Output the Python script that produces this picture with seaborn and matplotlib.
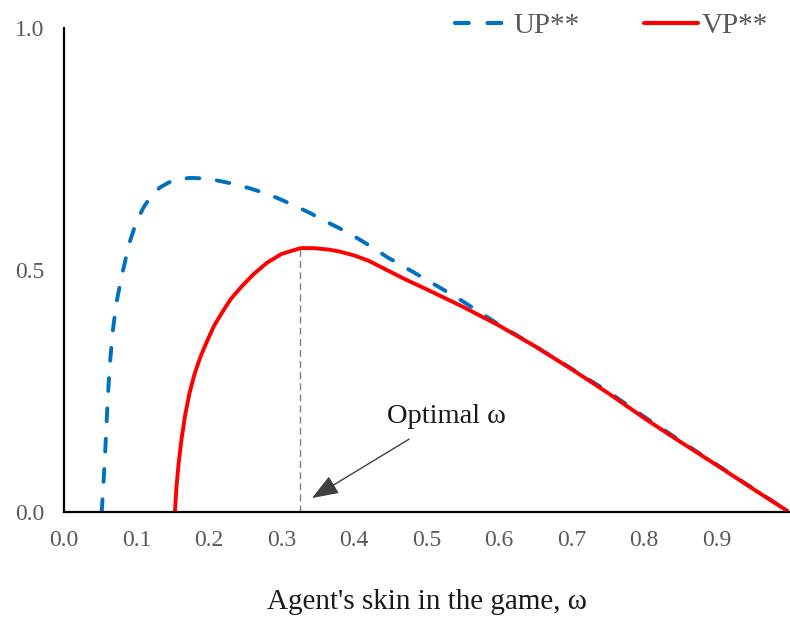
import matplotlib
matplotlib.use("Agg")
import matplotlib.pyplot as plt
from matplotlib.lines import Line2D
import seaborn as sns
import pandas as pd

# ---- data ----
up_omega = [0.052, 0.054, 0.056, 0.058, 0.060, 0.063, 0.067, 0.072, 0.080, 0.090,
            0.100, 0.110, 0.120, 0.132, 0.145, 0.160, 0.175, 0.190, 0.210, 0.233,
            0.255, 0.274, 0.295, 0.316, 0.340, 0.357, 0.380, 0.404, 0.425, 0.445,
            0.480, 0.528, 0.550, 0.600, 0.650, 0.700, 0.750, 0.800, 0.850, 0.900,
            0.950, 1.000]
up_value = [0.000, 0.050, 0.100, 0.160, 0.225, 0.300, 0.370, 0.430, 0.490, 0.555,
            0.600, 0.630, 0.652, 0.670, 0.681, 0.688, 0.690, 0.689, 0.685, 0.678,
            0.669, 0.660, 0.648, 0.634, 0.617, 0.603, 0.586, 0.566, 0.547, 0.527,
            0.497, 0.455, 0.435, 0.387, 0.342, 0.296, 0.249, 0.197, 0.147, 0.098,
            0.049, 0.000]

vp_omega = [0.153, 0.155, 0.158, 0.162, 0.167, 0.173, 0.180, 0.188, 0.197, 0.207,
            0.218, 0.230, 0.245, 0.262, 0.280, 0.300, 0.326, 0.345, 0.365, 0.380,
            0.400, 0.420, 0.445, 0.470, 0.500, 0.550, 0.600, 0.650, 0.700, 0.750,
            0.804, 0.850, 0.900, 0.950, 1.000]
vp_value = [0.000, 0.050, 0.100, 0.150, 0.200, 0.245, 0.285, 0.320, 0.352, 0.385,
            0.412, 0.440, 0.466, 0.492, 0.515, 0.533, 0.545, 0.545, 0.542, 0.538,
            0.530, 0.519, 0.500, 0.481, 0.460, 0.424, 0.385, 0.342, 0.295, 0.246,
            0.190, 0.145, 0.097, 0.048, 0.000]

optimal_omega = 0.326
optimal_value = 0.545

x_ticks = [0.0, 0.1, 0.2, 0.3, 0.4, 0.5, 0.6, 0.7, 0.8, 0.9]
y_ticks = [0.0, 0.5, 1.0]

series_names = ["UP**", "VP**"]
series_colors = {"UP**": "#0070C0", "VP**": "#FF0000"}

df = pd.concat([
    pd.DataFrame({"omega": up_omega, "value": up_value, "series": series_names[0]}),
    pd.DataFrame({"omega": vp_omega, "value": vp_value, "series": series_names[1]}),
])

sns.set_theme(style="white")
plt.rcParams["font.family"] = ["Liberation Serif", "DejaVu Serif"]

fig = plt.figure(figsize=(7.90, 6.17), dpi=100)
ax = fig.add_axes([0.081, 0.170, 0.918, 0.785])

DASH = (3.3, 4.5)
sns.lineplot(data=df, x="omega", y="value", hue="series", style="series",
             palette=series_colors,
             dashes={"UP**": DASH, "VP**": ""},
             sort=False, estimator=None, linewidth=2.8, ax=ax, legend=False)
for line in ax.get_lines():
    line.set_dash_capstyle("round")
    line.set_solid_capstyle("round")
    line.set_solid_joinstyle("round")

# optimal omega marker line
ax.plot([optimal_omega, optimal_omega], [0, optimal_value],
        color="#808080", lw=1.0, ls=(0, (5, 3)))

ax.annotate("Optimal ω", xy=(0.342, 0.029), xytext=(0.446, 0.198),
            fontsize=20.5, color="#1a1a1a", va="center", ha="left",
            arrowprops=dict(arrowstyle="-|>,head_length=0.8,head_width=0.3",
                            color="#404040", lw=1.0, shrinkA=10, shrinkB=0))

ax.set_xlim(0, 1.0)
ax.set_ylim(0, 1.0)
ax.set_xticks(x_ticks)
ax.set_xticklabels([f"{t:.1f}" for t in x_ticks])
ax.set_yticks(y_ticks)
ax.set_yticklabels([f"{t:.1f}" for t in y_ticks])
ax.tick_params(axis="both", length=0, labelsize=17, labelcolor="#595959")
ax.tick_params(axis="x", pad=13)
ax.tick_params(axis="y", pad=14)

for side in ["top", "right"]:
    ax.spines[side].set_visible(False)
for side in ["left", "bottom"]:
    ax.spines[side].set_color("black")
    ax.spines[side].set_linewidth(1.6)

ax.set_xlabel("Agent's skin in the game, ω", fontsize=21, color="#1a1a1a")
ax.xaxis.set_label_coords(0.5, -0.159)
ax.set_ylabel("")

handles = [Line2D([], [], color=series_colors["UP**"], lw=3.0, dashes=DASH,
                  dash_capstyle="round"),
           Line2D([], [], color=series_colors["VP**"], lw=3.0, solid_capstyle="round")]
leg = fig.legend(handles, series_names, loc="center right",
                 bbox_to_anchor=(1.006, 0.958), ncol=2, frameon=False,
                 fontsize=21, handlelength=1.85, handletextpad=0.15,
                 columnspacing=2.2, labelcolor="#595959")

fig.savefig("out.png", dpi=100)
